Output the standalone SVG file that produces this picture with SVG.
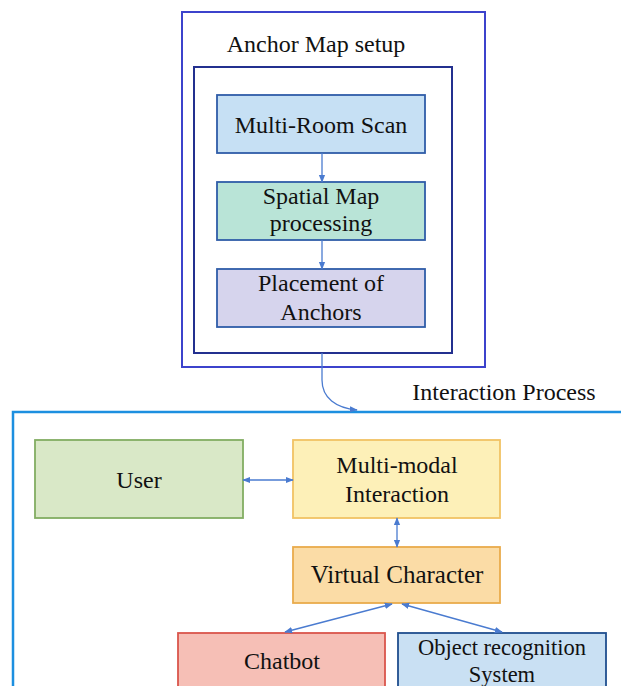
<svg xmlns="http://www.w3.org/2000/svg" width="621" height="686" viewBox="0 0 621 686" font-family="'Liberation Serif', 'Times New Roman', serif">
<defs>
<style>
svg text{font-family:"Liberation Serif","Times New Roman",serif !important;fill:#111;text-anchor:middle}
.conn{stroke:#4a7bd0;stroke-width:1.3;fill:none}
.n{stroke-width:1.8}
</style>
<marker id="ah" viewBox="0 0 10 10" refX="9" refY="5" markerWidth="8" markerHeight="8" orient="auto-start-reverse" markerUnits="userSpaceOnUse">
<path d="M0,1 L10,5 L0,9 z" fill="#4a7bd0"/>
</marker>
</defs>
<rect width="621" height="686" fill="#fff"/>
<g id="anchor-map-setup">
<rect x="182" y="12" width="303" height="355" fill="none" stroke="#3c43cc" stroke-width="2"/>
<text font-family="Liberation Serif" font-size="24" x="316" y="52">Anchor Map setup</text>
<rect x="194" y="67" width="258" height="286" fill="none" stroke="#23308f" stroke-width="2"/>
</g>
<g id="multi-room-scan">
<rect class="n" x="217" y="95" width="208" height="58" fill="#c6e0f4" stroke="#2f5ca8"/>
<text font-family="Liberation Serif" font-size="24" x="321" y="133">Multi-Room Scan</text>
</g>
<g id="spatial-map">
<rect class="n" x="217" y="182" width="208" height="58" fill="#b9e4d7" stroke="#2f5ca8"/>
<text font-family="Liberation Serif" font-size="24" x="321" y="204">Spatial Map</text>
<text font-family="Liberation Serif" font-size="24" x="321" y="231">processing</text>
</g>
<g id="placement">
<rect class="n" x="217" y="269" width="208" height="58" fill="#d6d4ed" stroke="#2f5ca8"/>
<text font-family="Liberation Serif" font-size="24" x="321" y="291">Placement of</text>
<text font-family="Liberation Serif" font-size="24" x="321" y="320">Anchors</text>
</g>
<g id="interaction-process">
<rect x="13" y="412" width="640" height="320" fill="none" stroke="#1c8fe0" stroke-width="2.5"/>
<text font-family="Liberation Serif" font-size="24" x="504" y="400">Interaction Process</text>
</g>
<g id="user">
<rect class="n" x="35" y="440" width="208" height="78" fill="#d9e8c7" stroke="#82ad62"/>
<text font-family="Liberation Serif" font-size="24" x="139" y="488">User</text>
</g>
<g id="multi-modal">
<rect class="n" x="293" y="440" width="207" height="78" fill="#fdf0b8" stroke="#f1c264"/>
<text font-family="Liberation Serif" font-size="24" x="397" y="473">Multi-modal</text>
<text font-family="Liberation Serif" font-size="24" x="397" y="502">Interaction</text>
</g>
<g id="virtual-character">
<rect class="n" x="293" y="547" width="207" height="56" fill="#fbdca6" stroke="#e9ab4c"/>
<text font-family="Liberation Serif" font-size="25" x="397" y="583">Virtual Character</text>
</g>
<g id="chatbot">
<rect class="n" x="178" y="633" width="207" height="70" fill="#f6bfb6" stroke="#da554c"/>
<text font-family="Liberation Serif" font-size="24" x="282" y="669">Chatbot</text>
</g>
<g id="object-recognition">
<rect class="n" x="398" y="633" width="208" height="70" fill="#c9e0f3" stroke="#1f4e8e"/>
<text font-family="Liberation Serif" font-size="22.5" x="502" y="655">Object recognition</text>
<text font-family="Liberation Serif" font-size="22.5" x="502" y="682">System</text>
</g>
<g id="connectors">
<path class="conn" d="M322,153 V182" marker-end="url(#ah)"/>
<path class="conn" d="M322,240 V269" marker-end="url(#ah)"/>
<path class="conn" d="M322,353 V380 C322,398 336,408 357,410" marker-end="url(#ah)"/>
<path class="conn" d="M243,480 H293" marker-start="url(#ah)" marker-end="url(#ah)"/>
<path class="conn" d="M397,518 V547" marker-start="url(#ah)" marker-end="url(#ah)"/>
<path class="conn" d="M392,604 L285,632" marker-start="url(#ah)" marker-end="url(#ah)"/>
<path class="conn" d="M402,604 L502,632" marker-start="url(#ah)" marker-end="url(#ah)"/>
</g>
</svg>
